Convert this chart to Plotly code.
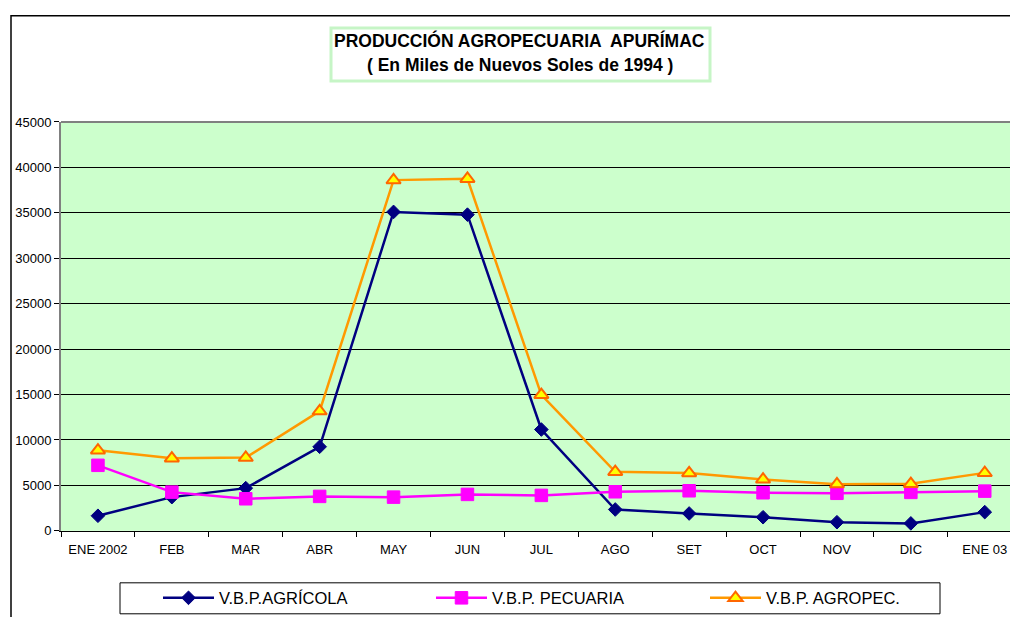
import math
import plotly.graph_objects as go

W, H = 1018, 617

months = ["ENE 2002", "FEB", "MAR", "ABR", "MAY", "JUN", "JUL", "AGO",
          "SET", "OCT", "NOV", "DIC", "ENE 03"]
agricola = [1660, 3710, 4700, 9250, 35100, 34800, 11150, 2350, 1910, 1500, 950, 820, 2060]
pecuaria = [7210, 4260, 3530, 3790, 3710, 4010, 3900, 4300, 4410, 4190, 4130, 4230, 4370]
agropec = [8860, 7980, 8060, 13170, 38600, 38750, 14970, 6500, 6360, 5660, 5140, 5180, 6380]

series_names = ["V.B.P.AGRÍCOLA", "V.B.P. PECUARIA", "V.B.P. AGROPEC."]
y_ticks = [0, 5000, 10000, 15000, 20000, 25000, 30000, 35000, 40000, 45000]

FONT = "Arial, Liberation Sans, Helvetica, sans-serif"

styles = [
    dict(line=dict(color="#000080", width=2.5),
         marker=dict(symbol="diamond", size=10.5, color="#000080",
                     line=dict(color="#000080", width=1))),
    dict(line=dict(color="#FF00FF", width=2.5),
         marker=dict(symbol="square", size=12.5, color="#FF00FF",
                     line=dict(color="#FF00FF", width=1))),
    dict(line=dict(color="#FF9900", width=2.5),
         marker=dict(symbol="triangle-up", size=12.5, color="#FFFF00",
                     line=dict(color="#FF6600", width=2))),
]

# screen-pixel layout targets -> figure coordinates (page offset compensation)
OX, OY, SY = 8.0, 15.0, 0.976

def fx(x):
    return (x - OX) / W

def fy(y):
    return 1 - ((y - OY) / SY) / H

PL, PT, PB = 61, 122, 531
CAT_STEP = 73.9
PL_FIG = PL - OX
X_RANGE = [-0.5, (W - PL_FIG) / CAT_STEP - 0.5]
Y_RANGE = [0, 45000]

fig = go.Figure()
for name, vals, st in zip(series_names, [agricola, pecuaria, agropec], styles):
    fig.add_trace(go.Scatter(x=list(range(len(months))), y=vals, name=name,
                             mode="lines+markers", line=st["line"], marker=st["marker"],
                             showlegend=False, cliponaxis=False))

def marker_path(symbol, cx, cy, size):
    r = size / 2
    if symbol == "diamond":
        rd = r * 1.3
        pts = [(0, -rd), (rd, 0), (0, rd), (-rd, 0)]
    elif symbol == "square":
        pts = [(-r, -r), (r, -r), (r, r), (-r, r)]
    else:
        rt = r * 2 / math.sqrt(3)
        pts = [(-rt, r / 2), (rt, r / 2), (0, -r)]
    d = "M " + " L ".join(f"{fx(cx + dx):.5f},{fy(cy + dy):.5f}" for dx, dy in pts) + " Z"
    return d

# manual legend (evenly spaced entries)
leg_line_x = [(163, 214), (436, 487), (710, 761)]
leg_y = 598
shapes = []
annotations = []
for (x0, x1), name, st in zip(leg_line_x, series_names, styles):
    shapes.append(dict(type="line", xref="paper", yref="paper",
                       x0=fx(x0), x1=fx(x1), y0=fy(leg_y), y1=fy(leg_y),
                       line=dict(color=st["line"]["color"], width=2.5)))
    m = st["marker"]
    shapes.append(dict(type="path", xref="paper", yref="paper",
                       path=marker_path(m["symbol"], (x0 + x1) / 2, leg_y, m["size"]),
                       fillcolor=m["color"],
                       line=dict(color=m["line"]["color"], width=m["line"]["width"])))
    annotations.append(dict(x=fx(x1 + 3), y=fy(leg_y), xref="paper", yref="paper",
                            text=name, showarrow=False, xanchor="left", yanchor="middle",
                            font=dict(family=FONT, size=16.5, color="black")))

shapes.append(dict(type="rect", xref="paper", yref="paper",
                   x0=fx(120), x1=fx(940), y0=fy(583), y1=fy(614),
                   line=dict(color="black", width=1), layer="below"))
shapes.append(dict(type="line", xref="paper", yref="paper",
                   x0=fx(11), x1=1, y0=0.9988, y1=0.9988,
                   line=dict(color="black", width=1.5)))
shapes.append(dict(type="line", xref="paper", yref="paper",
                   x0=fx(11), x1=fx(11), y0=1, y1=0,
                   line=dict(color="black", width=1.5)))
shapes.append(dict(type="rect", xref="paper", yref="paper",
                   x0=fx(331), x1=fx(710), y0=fy(28), y1=fy(81),
                   line=dict(color="#C6F5C6", width=3)))
shapes.append(dict(type="line", xref="paper", yref="paper",
                   x0=fx(PL), x1=1, y0=fy(PT), y1=fy(PT),
                   line=dict(color="#808080", width=2)))

annotations.append(dict(x=fx(520), y=fy(41), xref="paper", yref="paper",
                        text="<b>PRODUCCIÓN AGROPECUARIA  APURÍMAC</b>", showarrow=False,
                        xanchor="center", yanchor="middle",
                        font=dict(family=FONT, size=17.5, color="black")))
annotations.append(dict(x=fx(520), y=fy(65), xref="paper", yref="paper",
                        text="<b>( En Miles de Nuevos Soles de 1994 )</b>", showarrow=False,
                        xanchor="center", yanchor="middle",
                        font=dict(family=FONT, size=17.5, color="black")))

fig.update_layout(
    width=W, height=H, autosize=False,
    margin=dict(l=0, r=0, t=0, b=0),
    paper_bgcolor="white", plot_bgcolor="#CCFFCC",
    font=dict(family=FONT, size=13, color="black"),
    shapes=shapes, annotations=annotations,
    xaxis=dict(domain=[fx(PL), 1], range=X_RANGE,
               tickvals=list(range(len(months))), ticktext=months,
               showgrid=False, zeroline=False, showline=True, linecolor="black",
               linewidth=1, ticks="", ticklabelstandoff=7,
               minor=dict(tickvals=[i - 0.5 for i in range(len(months) + 1)],
                          ticks="outside", ticklen=5, tickcolor="black", showgrid=False),
               tickfont=dict(family=FONT, size=13, color="black")),
    yaxis=dict(domain=[fy(PB), fy(PT)], range=Y_RANGE, tickvals=y_ticks,
               tickformat="d", showgrid=True, gridcolor="black", gridwidth=1,
               zeroline=False, showline=True, linecolor="#808080", linewidth=2,
               ticks="outside", ticklen=5, tickcolor="black",
               tickfont=dict(family=FONT, size=13, color="black")),
    showlegend=False,
)

fig.write_html("out.html")
